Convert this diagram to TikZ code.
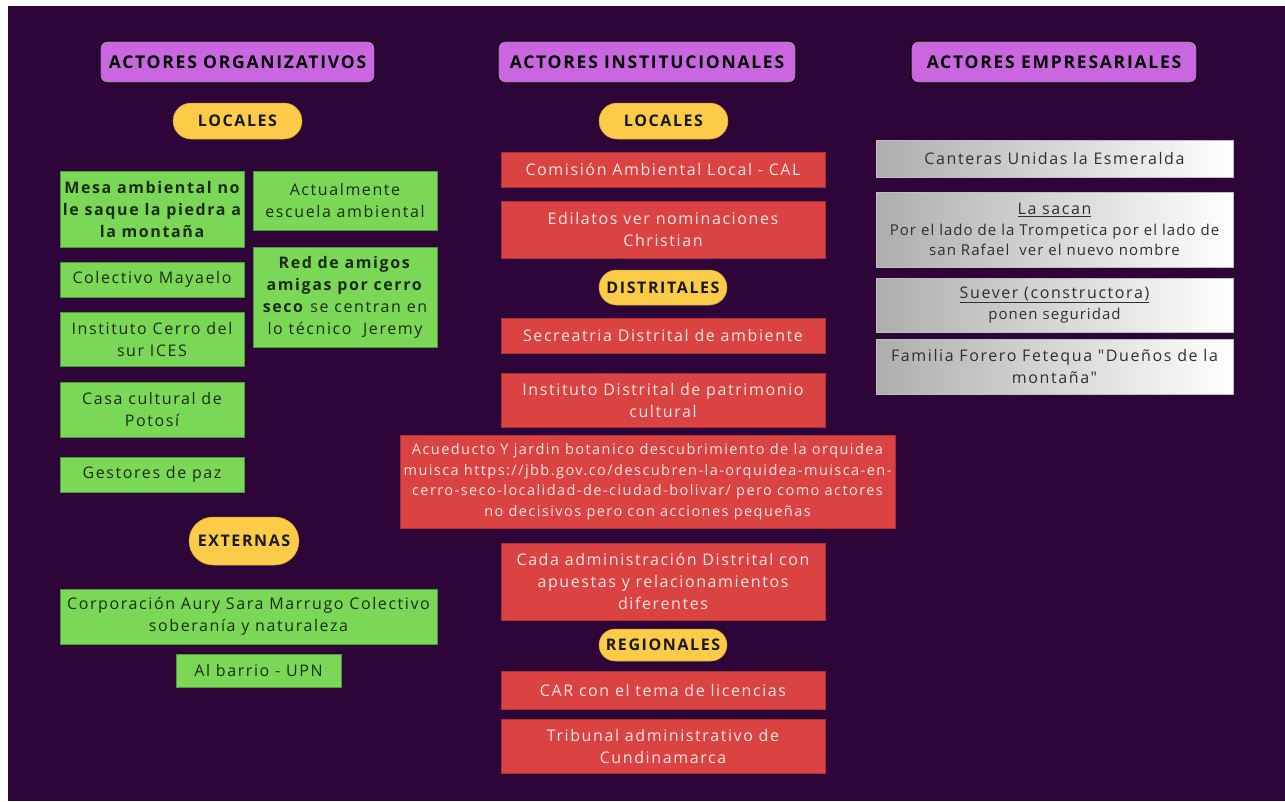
\documentclass[tikz,border=0pt]{standalone}
\usepackage{fontspec}
\setmainfont{Open Sans}[LetterSpace=10,Ligatures=TeXOff]
\newfontfamily\headF{Open Sans}[LetterSpace=10,Ligatures=TeXOff]
\newfontfamily\midF{Open Sans}[LetterSpace=7,Ligatures=TeXOff]
\usetikzlibrary{shapes.misc}
\definecolor{bgc}{HTML}{2E0538}
\definecolor{vio}{HTML}{C966E0}
\definecolor{yel}{HTML}{FCCB47}
\definecolor{grn}{HTML}{7AD856}
\definecolor{grnd}{HTML}{4E9A3A}
\definecolor{redc}{HTML}{DB4343}
\definecolor{redd}{HTML}{A82E3A}
\definecolor{redt}{HTML}{FBE6E6}
\definecolor{gtxt}{HTML}{1E2A18}
\definecolor{grayt}{HTML}{2F2F2F}
\begin{document}
\begin{tikzpicture}[x=1pt,y=-1pt,
  sz/.style 2 args={minimum width=#1pt,minimum height=#2pt},
  base/.style={inner sep=0pt,align=center,font=\fontsize{16}{22}\selectfont},
  hdr/.style={base,draw=black,line width=1.3pt,fill=vio,rounded corners=7pt,text=black,font=\headF\fontsize{17.5}{20}\selectfont\bfseries},
  pill/.style={base,rounded rectangle,fill=yel,draw=yel!80!black,line width=0.5pt,text=black!90,font=\headF\fontsize{16}{20}\selectfont\bfseries},
  gbox/.style={base,fill=grn,draw=grnd,line width=0.8pt,text=gtxt},
  rbox/.style={base,fill=redc,draw=redd,line width=0.8pt,text=redt},
  ebox/.style={base,left color=black!32,right color=white,draw=black!25,line width=0.6pt,text=grayt}
]
\useasboundingbox (0,0) rectangle (1285,801);
\fill[white] (0,0) rectangle (1285,801);
\fill[bgc] (8,6) rectangle (1285,801);

% headers
\node[hdr,sz={275}{42}] (h1) at (237.5,62) {ACTORES ORGANIZATIVOS};
\node[hdr,sz={298}{42}] (h2) at (647,62) {ACTORES INSTITUCIONALES};
\node[hdr,sz={286}{42}] (h3) at (1054,62) {ACTORES EMPRESARIALES};

% pills
\node[pill,sz={129}{36}] (p1) at (237.5,121) {LOCALES};
\node[pill,sz={129}{36}] (p2) at (663.5,121) {LOCALES};
\node[pill,sz={128}{35}] (p3) at (663,287.5) {DISTRITALES};
\node[pill,sz={110}{48}] (p4) at (244,541) {EXTERNAS};
\node[pill,sz={128}{32}] (p5) at (663,645) {REGIONALES};

% green
\node[gbox,sz={184}{76}] (g1) at (152,209) {\bfseries Mesa ambiental no\\\bfseries le saque la piedra a\\\bfseries la montaña};
\node[gbox,sz={184}{59}] (g2) at (345,200.5) {Actualmente\\escuela ambiental};
\node[gbox,sz={184}{100}] (g3) at (345,297) {\textbf{Red de amigos}\\\textbf{amigas por cerro}\\\textbf{seco} se centran en\\lo técnico\ \ Jeremy};
\node[gbox,sz={184}{35}] (g4) at (152,279.5) {Colectivo Mayaelo};
\node[gbox,sz={184}{54}] (g5) at (152,339) {Instituto Cerro del\\sur ICES};
\node[gbox,sz={184}{55}] (g6) at (152,409.5) {Casa cultural de\\Potosí};
\node[gbox,sz={184}{35}] (g7) at (152,474.5) {Gestores de paz};
\node[gbox,sz={377}{55}] (g8) at (248.5,616.5) {Corporación Aury Sara Marrugo Colectivo\\soberanía y naturaleza};
\node[gbox,sz={165}{33}] (g9) at (258.5,670.5) {Al barrio - UPN};

% red
\node[rbox,sz={324}{35}] (r1) at (663,169.5) {Comisión Ambiental Local - CAL};
\node[rbox,sz={324}{57}] (r2) at (663,229.5) {Edilatos ver nominaciones\\Christian};
\node[rbox,sz={324}{35}] (r3) at (663,335.5) {Secreatria Distrital de ambiente};
\node[rbox,sz={324}{54}] (r4) at (663,400) {Instituto Distrital de patrimonio\\cultural};
\node[rbox,sz={495}{93},font=\fontsize{14.5}{20.5}\selectfont] (r5) at (647.5,481.5) {Acueducto Y jardin botanico descubrimiento de la orquidea\\muisca https://jbb.gov.co/descubren-la-orquidea-muisca-en-\\cerro-seco-localidad-de-ciudad-bolivar/ pero como actores\\no decisivos pero con acciones pequeñas};
\node[rbox,sz={324}{77}] (r6) at (663,581.5) {Cada administración Distrital con\\apuestas y relacionamientos\\diferentes};
\node[rbox,sz={324}{38}] (r7) at (663,690) {CAR con el tema de licencias};
\node[rbox,sz={324}{54}] (r8) at (663,746) {Tribunal administrativo de\\Cundinamarca};

% gray
\node[ebox,sz={357}{37}] (e1) at (1054.5,158.5) {Canteras Unidas la Esmeralda};
\node[ebox,sz={357}{75},font=\fontsize{16}{20.5}\selectfont] (e2) at (1054.5,229.5) {\underline{La sacan}\\{\midF\fontsize{15}{20.5}\selectfont Por el lado de la Trompetica por el lado de}\\{\midF\fontsize{15}{20.5}\selectfont san Rafael\ \ ver el nuevo nombre}};
\node[ebox,sz={357}{54},font=\fontsize{16}{20.5}\selectfont] (e3) at (1054.5,305) {\underline{Suever (constructora)}\\{\midF\fontsize{15}{20.5}\selectfont ponen seguridad}};
\node[ebox,sz={357}{55}] (e4) at (1054.5,366.5) {Familia Forero Fetequa "Dueños de la\\montaña"};
\end{tikzpicture}
\end{document}
